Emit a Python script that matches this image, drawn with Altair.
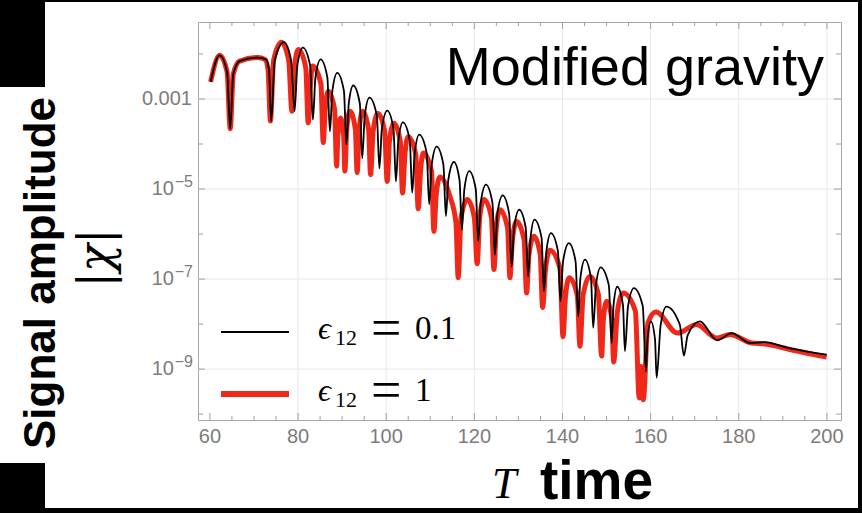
import altair as alt
import pandas as pd

# ---------------- data ----------------
# (time T, log10 |chi|) pairs
black_points = [
    (60.16, -2.62), (62.20, -2.03), (63.90, -2.40), (64.61, -3.66), (65.30, -2.45),
    (66.74, -2.16), (70.89, -2.08), (72.71, -2.12), (73.40, -2.35), (73.91, -3.49),
    (74.71, -2.14), (76.79, -1.74), (78.42, -2.14), (79.22, -3.27), (79.84, -2.26),
    (81.10, -1.86), (82.75, -2.26), (83.37, -3.46), (83.95, -2.52), (85.12, -2.12),
    (86.65, -2.52), (87.23, -3.72), (87.79, -2.82), (88.89, -2.42), (90.41, -2.82),
    (90.97, -4.01), (91.51, -3.10), (92.52, -2.70), (94.02, -3.10), (94.56, -4.32),
    (95.14, -3.37), (96.19, -2.97), (97.88, -3.37), (98.46, -4.54), (99.02, -3.66),
    (100.23, -3.26), (101.65, -3.66), (102.21, -4.83), (102.76, -3.92), (103.79, -3.52),
    (105.35, -3.92), (105.90, -5.08), (106.48, -4.19), (107.49, -3.79), (109.18, -4.19),
    (109.76, -5.34), (110.33, -4.46), (111.44, -4.06), (112.98, -4.46), (113.55, -5.60),
    (114.09, -4.80), (115.37, -4.40), (116.64, -4.80), (117.18, -5.90), (117.74, -5.00),
    (118.84, -4.60), (120.32, -5.00), (120.88, -6.16), (121.45, -5.30), (122.63, -4.90),
    (124.10, -5.30), (124.67, -6.46), (125.24, -5.54), (126.42, -5.14), (127.89, -5.54),
    (128.46, -6.72), (129.02, -5.86), (130.18, -5.46), (131.66, -5.86), (132.22, -6.94),
    (132.76, -6.08), (133.63, -5.68), (135.25, -6.08), (135.79, -7.27), (136.35, -6.38),
    (137.38, -5.98), (138.97, -6.38), (139.53, -7.49), (140.14, -6.60), (141.46, -6.20),
    (142.96, -6.60), (143.57, -7.83), (144.08, -6.97), (145.09, -6.57), (146.46, -6.97),
    (146.97, -8.08), (147.60, -7.14), (148.65, -6.74), (150.52, -7.14), (151.15, -8.42),
    (151.60, -7.57), (152.42, -7.17), (153.72, -7.57), (154.17, -8.60), (154.88, -7.60),
    (156.21, -7.20), (158.22, -7.60), (158.93, -9.05), (159.29, -8.34), (160.07, -7.94),
    (161.00, -8.34), (161.36, -9.19), (162.29, -8.01), (163.58, -7.61), (166.62, -8.01),
    (167.55, -8.70), (168.40, -8.25), (171.19, -7.94), (175.11, -8.36), (178.38, -8.20),
    (182.53, -8.42), (185.93, -8.40), (189.70, -8.49), (192.36, -8.55), (199.94, -8.68),
]

red_points = [
    (60.16, -2.62), (62.20, -2.03), (63.90, -2.40), (64.61, -3.66), (65.30, -2.45),
    (66.74, -2.16), (70.89, -2.08), (72.48, -2.12), (73.20, -2.35), (73.73, -3.49),
    (74.46, -2.14), (76.22, -1.74), (77.88, -2.14), (78.61, -3.27), (79.17, -2.30),
    (80.08, -1.90), (81.75, -2.30), (82.31, -3.53), (82.82, -2.67), (83.30, -2.27),
    (85.20, -2.67), (85.71, -3.97), (86.17, -3.23), (86.84, -2.83), (88.29, -3.23),
    (88.75, -4.49), (89.03, -3.82), (89.66, -3.42), (90.35, -3.82), (90.63, -4.60),
    (91.05, -3.67), (91.77, -3.27), (93.00, -3.67), (93.42, -4.63), (93.88, -3.67),
    (94.65, -3.27), (96.00, -3.67), (96.46, -4.68), (97.03, -3.72), (98.12, -3.32),
    (99.66, -3.72), (100.23, -4.83), (100.75, -3.94), (101.75, -3.54), (103.20, -3.94),
    (103.72, -5.09), (104.25, -4.24), (104.99, -3.84), (106.73, -4.24), (107.26, -5.44),
    (107.80, -4.60), (108.40, -4.20), (110.29, -4.60), (110.83, -5.94), (111.35, -5.13),
    (112.19, -4.73), (114.46, -5.16), (115.83, -5.75), (116.34, -6.97), (116.99, -5.63),
    (118.39, -5.23), (120.00, -5.63), (120.65, -6.66), (121.22, -5.63), (122.18, -5.23),
    (123.88, -5.63), (124.45, -6.79), (124.99, -5.86), (125.81, -5.46), (127.54, -5.86),
    (128.08, -6.97), (128.65, -6.12), (129.59, -5.72), (131.29, -6.12), (131.86, -7.31),
    (132.40, -6.45), (133.52, -6.05), (134.95, -6.45), (135.49, -7.63), (136.18, -6.76),
    (137.15, -6.36), (139.43, -6.76), (140.12, -8.28), (140.70, -7.37), (141.53, -6.97),
    (143.38, -7.37), (143.96, -8.49), (144.70, -7.34), (146.23, -6.94), (148.14, -7.34),
    (148.88, -8.71), (149.29, -7.89), (150.02, -7.49), (151.20, -7.89), (151.61, -8.84),
    (152.48, -7.71), (153.78, -7.31), (156.54, -7.71), (157.41, -9.64), (157.85, -8.94),
    (158.34, -9.68), (159.40, -7.97), (161.20, -7.73), (166.08, -8.20), (170.44, -8.01),
    (174.98, -8.31), (178.00, -8.23), (182.92, -8.42), (185.93, -8.44), (192.36, -8.58),
    (199.94, -8.73),
]

x_label_values = [60, 80, 100, 120, 140, 160, 180, 200]
x_tick_labels = ["60", "80", "100", "120", "140", "160", "180", "200"]
x_grid_values = [80, 100, 120, 140, 160, 180, 200]
x_minor_ticks = [65, 70, 75, 85, 90, 95, 105, 110, 115, 125, 130, 135,
                 145, 150, 155, 165, 170, 175, 185, 190, 195]

y_label_values = [-3, -5, -7, -9]
y_decimal_values = [-3]
y_decimal_labels = ["0.001"]
y_power_values = [-5, -7, -9]
y_power_exponents = ["\u22125", "\u22127", "\u22129"]
y_minor_ticks = [-2, -4, -6, -8, -10]

legend_values = ["0.1", "1"]

# ---------------- styling ----------------
W, H = 643, 398
RED = "#f0281a"
TICK = "#a0a0a0"
GRID = "#e8e8e8"
LABEL = "#7c7c7c"
SANS = "Liberation Sans"
SERIF = "Liberation Serif"

xscale = alt.Scale(domain=[57.3, 203.2], nice=False, zero=False)
yscale = alt.Scale(domain=[-10.13, -1.29], nice=False, zero=False)

one = alt.Data(values=[{}])


def rect(x1, y1, x2, y2):
    return alt.Chart(one).mark_rect(color="black").encode(
        x=alt.value(x1), x2=alt.value(x2), y=alt.value(y1), y2=alt.value(y2))


def text(txt, x, y, **kw):
    return alt.Chart(one).mark_text(text=txt, **kw).encode(x=alt.value(x), y=alt.value(y))


def xenc(field="v"):
    return alt.X(f"{field}:Q", scale=xscale, axis=None)


def yenc(field="v"):
    return alt.Y(f"{field}:Q", scale=yscale, axis=None)


def xticks(vals, length):
    base = alt.Chart(pd.DataFrame({"v": vals}))
    bottom = base.mark_rule(color=TICK, strokeWidth=1).encode(
        x=xenc(), y=alt.value(H), y2=alt.value(H - length))
    top = base.mark_rule(color=TICK, strokeWidth=1).encode(
        x=xenc(), y=alt.value(0), y2=alt.value(length))
    return [bottom, top]


def yticks(vals, length):
    base = alt.Chart(pd.DataFrame({"v": vals}))
    left = base.mark_rule(color=TICK, strokeWidth=1).encode(
        y=yenc(), x=alt.value(0), x2=alt.value(length))
    right = base.mark_rule(color=TICK, strokeWidth=1).encode(
        y=yenc(), x=alt.value(W), x2=alt.value(W - length))
    return [left, right]


layers = [
    # dark screenshot border
    rect(-198, -22, 664, -20),
    rect(660, -22, 664, 491),
    rect(-198, 486, 664, 491),
    rect(-198, -22, -153, 65),
    rect(-198, 441, -153, 491),
    # grid
    alt.Chart(pd.DataFrame({"v": x_grid_values})).mark_rule(color=GRID, strokeWidth=1).encode(
        x=xenc(), y=alt.value(0), y2=alt.value(H)),
    alt.Chart(pd.DataFrame({"v": y_label_values})).mark_rule(color=GRID, strokeWidth=1).encode(
        y=yenc(), x=alt.value(0), x2=alt.value(W)),
]
layers += xticks(x_label_values, 7) + xticks(x_minor_ticks, 4)
layers += yticks(y_label_values, 7) + yticks(y_minor_ticks, 5)

# tick labels
layers += [
    alt.Chart(pd.DataFrame({"v": x_label_values, "lab": x_tick_labels})).mark_text(
        font=SANS, fontSize=20, color=LABEL, align="center", baseline="top"
    ).encode(x=xenc(), y=alt.value(H + 7), text="lab:N"),
    alt.Chart(pd.DataFrame({"v": y_decimal_values, "lab": y_decimal_labels})).mark_text(
        font=SANS, fontSize=20, color=LABEL, align="right", baseline="middle"
    ).encode(y=yenc(), x=alt.value(-6), text="lab:N"),
    alt.Chart(pd.DataFrame({"v": y_power_values})).mark_text(
        text="10", font=SANS, fontSize=20, color=LABEL, align="right", baseline="middle"
    ).encode(y=yenc(), x=alt.value(-24)),
    alt.Chart(pd.DataFrame({"v": y_power_values, "lab": y_power_exponents})).mark_text(
        font=SANS, fontSize=16, color=LABEL, align="right", baseline="middle", dy=-7
    ).encode(y=yenc(), x=alt.value(-5), text="lab:N"),
]

# curves
red_df = pd.DataFrame(red_points, columns=["T", "log_amp"])
black_df = pd.DataFrame(black_points, columns=["T", "log_amp"])
layers += [
    alt.Chart(red_df).mark_line(color=RED, strokeWidth=5, interpolate="monotone").encode(
        x=xenc("T"), y=yenc("log_amp")),
    alt.Chart(black_df).mark_line(color="black", strokeWidth=1.8, interpolate="monotone").encode(
        x=xenc("T"), y=yenc("log_amp")),
]

# legend drawn inside the frame
legend_y = [310, 372]
for i, (val, col, sw) in enumerate(zip(legend_values, ["black", RED], [1.8, 6])):
    yb = legend_y[i] + 7
    layers += [
        alt.Chart(one).mark_rule(color=col, strokeWidth=sw).encode(
            x=alt.value(23), x2=alt.value(91), y=alt.value(legend_y[i])),
        text("\u03f5", 120, yb, font=SERIF, fontSize=32, fontStyle="italic", align="left",
             baseline="alphabetic", color="black"),
        text("12", 137, yb + 6, font=SERIF, fontSize=22, align="left",
             baseline="alphabetic", color="black"),
        text("=", 173, yb + 7, font=SERIF, fontSize=54, align="left",
             baseline="alphabetic", color="black"),
        text(val, 217, yb, font=SERIF, fontSize=33, align="left",
             baseline="alphabetic", color="black"),
    ]

# annotations and titles
layers += [
    text("Modified gravity", 626, 63, font=SANS, fontSize=54, align="right",
         baseline="alphabetic", color="black"),
    text("Signal amplitude", -143, 251, font=SANS, fontSize=44, fontWeight="bold",
         angle=270, align="center", baseline="alphabetic", color="black"),
    text("|\u03c7|", -87, 236, font="DejaVu Serif", fontSize=46, fontStyle="italic",
         angle=270, align="center", baseline="alphabetic", color="black"),
    text("T", 294, 476, font=SERIF, fontSize=44, fontStyle="italic", align="left",
         baseline="alphabetic", color="black"),
    text("time", 342, 477, font=SANS, fontSize=55, fontWeight="bold", align="left",
         baseline="alphabetic", color="black"),
]

chart = alt.layer(*layers).properties(
    width=W, height=H,
    padding={"left": 198, "top": 22, "right": 21, "bottom": 93},
    autosize=alt.AutoSizeParams(type="none"),
    background="white",
).configure_view(
    stroke="#a8a8a8", strokeWidth=1
)

chart.save("out.html", embed_options={"renderer": "svg", "actions": False})
